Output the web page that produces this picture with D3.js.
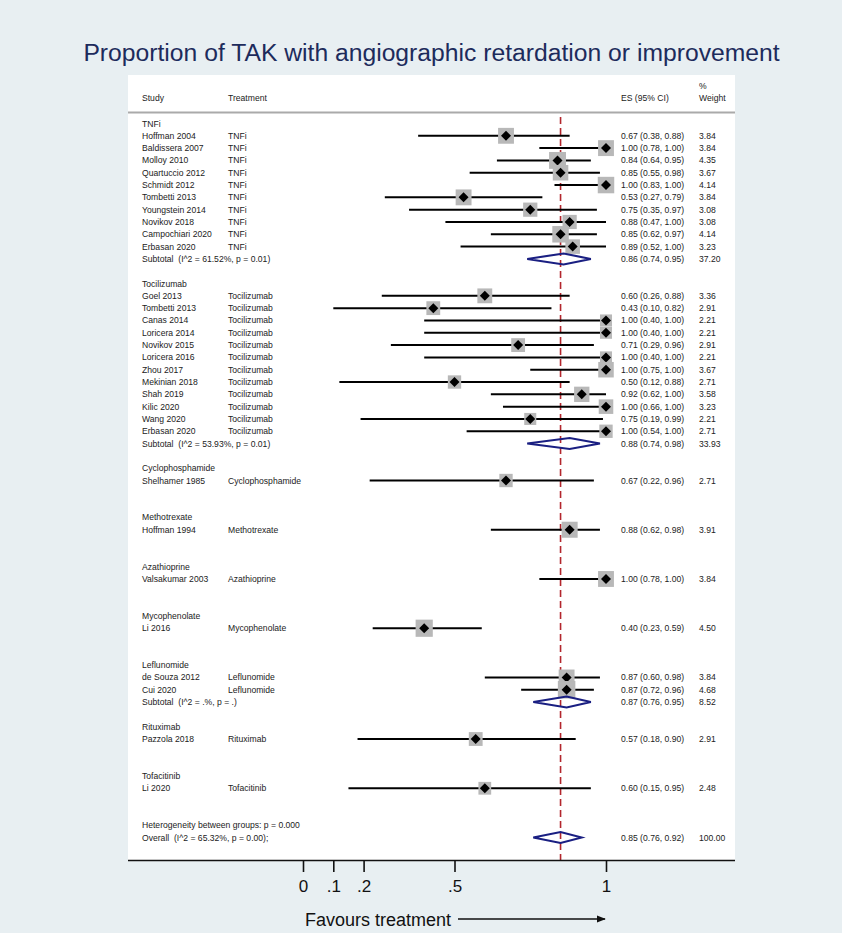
<!DOCTYPE html>
<html>
<head>
<meta charset="utf-8">
<script src="https://cdn.jsdelivr.net/npm/d3@7"></script>
<style>
  body { margin: 0; background: #e8eff2; }
  svg { display: block; font-family: "Liberation Sans", Arial, sans-serif; }
  .cell { font-size: 8.6px; fill: #222; white-space: pre; }
</style>
</head>
<body>
<div id="chart"></div>
<script>
// chart data
var groups = ["TNFi", "Tocilizumab", "Cyclophosphamide", "Methotrexate", "Azathioprine",
  "Mycophenolate", "Leflunomide", "Rituximab", "Tofacitinib"];

var studies = ["Hoffman 2004", "Baldissera 2007", "Molloy 2010", "Quartuccio 2012", "Schmidt 2012",
  "Tombetti 2013", "Youngstein 2014", "Novikov 2018", "Campochiari 2020", "Erbasan 2020",
  "Goel 2013", "Tombetti 2013", "Canas 2014", "Loricera 2014", "Novikov 2015", "Loricera 2016",
  "Zhou 2017", "Mekinian 2018", "Shah 2019", "Kilic 2020", "Wang 2020", "Erbasan 2020",
  "Shelhamer 1985", "Hoffman 1994", "Valsakumar 2003", "Li 2016", "de Souza 2012", "Cui 2020",
  "Pazzola 2018", "Li 2020"];

var treatments = ["TNFi", "TNFi", "TNFi", "TNFi", "TNFi", "TNFi", "TNFi", "TNFi", "TNFi", "TNFi",
  "Tocilizumab", "Tocilizumab", "Tocilizumab", "Tocilizumab", "Tocilizumab", "Tocilizumab",
  "Tocilizumab", "Tocilizumab", "Tocilizumab", "Tocilizumab", "Tocilizumab", "Tocilizumab",
  "Cyclophosphamide", "Methotrexate", "Azathioprine", "Mycophenolate", "Leflunomide", "Leflunomide",
  "Rituximab", "Tofacitinib"];

var es = [0.67, 1.00, 0.84, 0.85, 1.00, 0.53, 0.75, 0.88, 0.85, 0.89,
  0.60, 0.43, 1.00, 1.00, 0.71, 1.00, 1.00, 0.50, 0.92, 1.00, 0.75, 1.00,
  0.67, 0.88, 1.00, 0.40, 0.87, 0.87, 0.57, 0.60];
var lower = [0.38, 0.78, 0.64, 0.55, 0.83, 0.27, 0.35, 0.47, 0.62, 0.52,
  0.26, 0.10, 0.40, 0.40, 0.29, 0.40, 0.75, 0.12, 0.62, 0.66, 0.19, 0.54,
  0.22, 0.62, 0.78, 0.23, 0.60, 0.72, 0.18, 0.15];
var upper = [0.88, 1.00, 0.95, 0.98, 1.00, 0.79, 0.97, 1.00, 0.97, 1.00,
  0.88, 0.82, 1.00, 1.00, 0.96, 1.00, 1.00, 0.88, 1.00, 1.00, 0.99, 1.00,
  0.96, 0.98, 1.00, 0.59, 0.98, 0.96, 0.90, 0.95];
var weights = [3.84, 3.84, 4.35, 3.67, 4.14, 3.84, 3.08, 3.08, 4.14, 3.23,
  3.36, 2.91, 2.21, 2.21, 2.91, 2.21, 3.67, 2.71, 3.58, 3.23, 2.21, 2.71,
  2.71, 3.91, 3.84, 4.50, 3.84, 4.68, 2.91, 2.48];

// subtotals (only groups with more than one study)
var subGroups = ["TNFi", "Tocilizumab", "Leflunomide"];
var subLabels = ["Subtotal  (I^2 = 61.52%, p = 0.01)", "Subtotal  (I^2 = 53.93%, p = 0.01)",
  "Subtotal  (I^2 = .%, p = .)"];
var subEs = [0.86, 0.88, 0.87];
var subLower = [0.74, 0.74, 0.76];
var subUpper = [0.95, 0.98, 0.95];
var subWeights = [37.20, 33.93, 8.52];

var overallEs = 0.85, overallLower = 0.76, overallUpper = 0.92, overallWeight = 100.00;
var overallLabel = "Overall  (I^2 = 65.32%, p = 0.00);";
var hetLabel = "Heterogeneity between groups: p = 0.000";

var tickValues = [0, 0.1, 0.2, 0.5, 1];
var tickLabels = ["0", ".1", ".2", ".5", "1"];

// build the row list
var rows = [];
groups.forEach(function(g) {
  rows.push({type: "header", label: g});
  var n = 0;
  treatments.forEach(function(t, i) {
    if (t === g) {
      rows.push({type: "study", i: i});
      n++;
    }
  });
  var s = subGroups.indexOf(g);
  if (s > -1) rows.push({type: "subtotal", s: s});
  else rows.push({type: "blank"});
  rows.push({type: "blank"});
});
rows.push({type: "het"});
rows.push({type: "overall"});
rows.forEach(function(r, k) { r.k = k; });

var svgWidth = 842;
var svgHeight = 933;

var svg = d3.select("#chart")
  .append("svg")
  .attr("width", svgWidth)
  .attr("height", svgHeight);

// white panel
svg.append("rect")
  .attr("x", 128)
  .attr("y", 75)
  .attr("width", 607)
  .attr("height", 786)
  .attr("fill", "#fff");

// title
svg.append("text")
  .attr("x", 431.5)
  .attr("y", 61)
  .attr("text-anchor", "middle")
  .attr("font-size", "24.7px")
  .attr("fill", "#1d2b5c")
  .text("Proportion of TAK with angiographic retardation or improvement");

// scales
var xScale = d3.scaleLinear().domain([0, 1]).range([303, 606]);
var yScale = d3.scaleLinear().domain([0, rows.length - 1]).range([123.5, 837.5]);
var sideScale = d3.scaleSqrt().domain([0, 1]).range([0, 8.1]);

var colStudy = 142, colTreat = 228, colEs = 621, colW = 699;
var fmt = d3.format(".2f");

// column headers
svg.append("text").attr("class", "cell").attr("x", colStudy).attr("y", 101).text("Study");
svg.append("text").attr("class", "cell").attr("x", colTreat).attr("y", 101).text("Treatment");
svg.append("text").attr("class", "cell").attr("x", colEs).attr("y", 101).text("ES (95% CI)");
svg.append("text").attr("class", "cell").attr("x", colW).attr("y", 89).text("%");
svg.append("text").attr("class", "cell").attr("x", colW).attr("y", 101).text("Weight");

svg.append("line")
  .attr("x1", 128).attr("x2", 735)
  .attr("y1", 112.5).attr("y2", 112.5)
  .attr("stroke", "#aaa")
  .attr("stroke-width", 2);

// red dashed line at the overall estimate
svg.append("line")
  .attr("x1", xScale(overallEs)).attr("x2", xScale(overallEs))
  .attr("y1", 117).attr("y2", 860)
  .attr("stroke", "#b3262d")
  .attr("stroke-width", 1.6)
  .attr("stroke-dasharray", "7,4");

var rowG = svg.selectAll("g.row")
  .data(rows)
  .enter()
  .append("g")
  .attr("class", "row")
  .attr("transform", function(d) { return "translate(0," + yScale(d.k) + ")"; });

// labels
rowG.append("text")
  .attr("class", "cell")
  .attr("x", colStudy)
  .attr("dy", "0.35em")
  .text(function(d) {
    if (d.type === "header") return d.label;
    if (d.type === "study") return studies[d.i];
    if (d.type === "subtotal") return subLabels[d.s];
    if (d.type === "het") return hetLabel;
    if (d.type === "overall") return overallLabel;
    return "";
  });

var studyRows = rowG.filter(function(d) { return d.type === "study"; });

studyRows.append("text")
  .attr("class", "cell")
  .attr("x", colTreat)
  .attr("dy", "0.35em")
  .text(function(d) { return treatments[d.i]; });

// CI lines
studyRows.append("line")
  .attr("x1", function(d) { return xScale(lower[d.i]); })
  .attr("x2", function(d) { return xScale(upper[d.i]); })
  .attr("stroke", "#000")
  .attr("stroke-width", 2);

// weight squares
studyRows.append("rect")
  .attr("x", function(d) { return xScale(es[d.i]) - sideScale(weights[d.i]) / 2; })
  .attr("y", function(d) { return -sideScale(weights[d.i]) / 2; })
  .attr("width", function(d) { return sideScale(weights[d.i]); })
  .attr("height", function(d) { return sideScale(weights[d.i]); })
  .attr("fill", "#b8b8b8");

// point diamonds
studyRows.append("path")
  .attr("d", function(d) {
    var cx = xScale(es[d.i]);
    return "M" + (cx - 5) + ",0L" + cx + ",-5L" + (cx + 5) + ",0L" + cx + ",5Z";
  })
  .attr("fill", "#000");

studyRows.append("text")
  .attr("class", "cell")
  .attr("x", colEs)
  .attr("dy", "0.35em")
  .text(function(d) { return fmt(es[d.i]) + " (" + fmt(lower[d.i]) + ", " + fmt(upper[d.i]) + ")"; });

studyRows.append("text")
  .attr("class", "cell")
  .attr("x", colW)
  .attr("dy", "0.35em")
  .text(function(d) { return fmt(weights[d.i]); });

// pooled diamonds (subtotals + overall)
function pooled(d) {
  if (d.type === "subtotal") return [subEs[d.s], subLower[d.s], subUpper[d.s], subWeights[d.s]];
  return [overallEs, overallLower, overallUpper, overallWeight];
}

var poolRows = rowG.filter(function(d) { return d.type === "subtotal" || d.type === "overall"; });

poolRows.append("path")
  .attr("d", function(d) {
    var p = pooled(d);
    return "M" + xScale(p[1]) + ",0L" + xScale(p[0]) + ",-5.5L" + xScale(p[2]) + ",0L" + xScale(p[0]) + ",5.5Z";
  })
  .attr("fill", "none")
  .attr("stroke", "#1a1f82")
  .attr("stroke-width", 2);

poolRows.append("text")
  .attr("class", "cell")
  .attr("x", colEs)
  .attr("dy", "0.35em")
  .text(function(d) { var p = pooled(d); return fmt(p[0]) + " (" + fmt(p[1]) + ", " + fmt(p[2]) + ")"; });

poolRows.append("text")
  .attr("class", "cell")
  .attr("x", colW)
  .attr("dy", "0.35em")
  .text(function(d) { return fmt(pooled(d)[3]); });

// x axis
svg.append("line")
  .attr("x1", 128).attr("x2", 735)
  .attr("y1", 860.5).attr("y2", 860.5)
  .attr("stroke", "#111")
  .attr("stroke-width", 1.6);

var xAxis = d3.axisBottom(xScale)
  .tickValues(tickValues)
  .tickFormat(function(d, i) { return tickLabels[i]; })
  .tickSize(12)
  .tickPadding(8);

var axisG = svg.append("g")
  .attr("transform", "translate(0,860)")
  .call(xAxis);

axisG.select(".domain").remove();
axisG.selectAll(".tick line").attr("stroke", "#111").attr("stroke-width", 1.6);
axisG.selectAll(".tick text")
  .attr("font-size", "17px")
  .attr("font-family", "Liberation Sans, Arial, sans-serif")
  .attr("fill", "#111");

// favours label with arrow
svg.append("defs").append("marker")
  .attr("id", "arrow")
  .attr("viewBox", "0 0 10 10")
  .attr("refX", 9).attr("refY", 5)
  .attr("markerWidth", 6).attr("markerHeight", 6)
  .attr("orient", "auto")
  .append("path")
  .attr("d", "M0,1L10,5L0,9Z")
  .attr("fill", "#111");

svg.append("text")
  .attr("x", 305)
  .attr("y", 926)
  .attr("font-size", "18px")
  .attr("fill", "#111")
  .text("Favours treatment");

svg.append("line")
  .attr("x1", 458).attr("x2", 605)
  .attr("y1", 919).attr("y2", 919)
  .attr("stroke", "#111")
  .attr("stroke-width", 1.5)
  .attr("marker-end", "url(#arrow)");
</script>
</body>
</html>
